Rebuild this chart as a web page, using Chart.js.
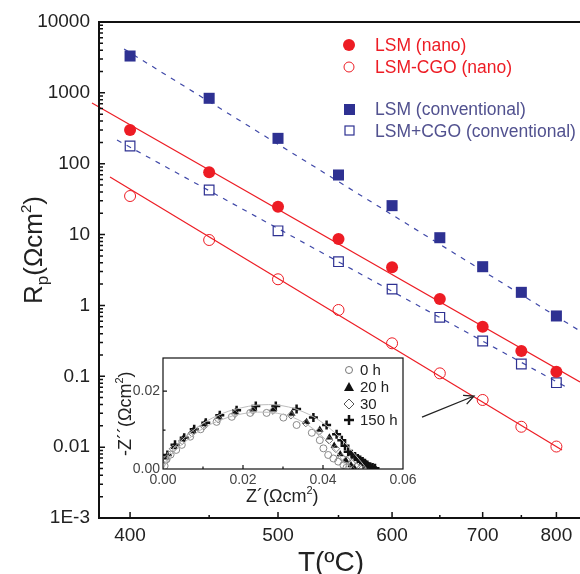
<!DOCTYPE html>
<html>
<head>
<meta charset="utf-8">
<script src="https://cdn.jsdelivr.net/npm/chart.js@4/dist/chart.umd.min.js"></script>
<style>
  body { margin: 0; background: #fff; }
  #wrap { position: relative; width: 580px; height: 574px; }
  #main { position: absolute; left: 0; top: 0; }
  #inset { position: absolute; left: 100px; top: 350px; }
</style>
</head>
<body>
<div id="wrap">
  <canvas id="main" width="580" height="574"></canvas>
  <canvas id="inset" width="325" height="165"></canvas>
</div>
<script>
// temperatures (ºC) and polarisation resistance Rp (Ωcm²)
var temps = [400, 450, 500, 550, 600, 650, 700, 750, 800];
var lsmNano = [299, 75.7, 24.7, 8.66, 3.45, 1.23, 0.501, 0.228, 0.116];
var lsmCgoNano = [35.0, 8.38, 2.34, 0.862, 0.292, 0.110, 0.0463, 0.0194, 0.0102];
var lsmConv = [3311, 838, 228, 69.3, 25.6, 9.03, 3.52, 1.53, 0.71];
var lsmCgoConv = [178, 42.6, 11.3, 4.14, 1.70, 0.68, 0.315, 0.149, 0.0812];

// Arrhenius fit lines: end points
var fitNanoT = [378.3, 836.5], fitNano = [719, 0.0831];
var fitCgoNanoT = [388.4, 808.4], fitCgoNano = [64.9, 0.00911];
var fitConvT = [396.5, 836.5], fitConv = [4159, 0.4356];
var fitCgoConvT = [392.4, 817.6], fitCgoConv = [216, 0.0683];

var xTickLabels = [400, 500, 600, 700, 800];
var xMinorTicks = [450, 550, 650, 750];
var yTickValues = [0.001, 0.01, 0.1, 1, 10, 100, 1000, 10000];
var yTickLabels = ["1E-3", "0.01", "0.1", "1", "10", "100", "1000", "10000"];

// arrow pointing at the 700 ºC point
var arrowFrom = [630.7, 0.0266], arrowTo = [689.5, 0.0527];

// inset: impedance spectra, Z' and -Z'' (Ωcm²)
var z0h = [[0.0004,0.0008],[0.0009,0.0025],[0.0019,0.0037],[0.0033,0.0049],[0.0047,0.0062],[0.0068,0.0083],[0.0094,0.0102],[0.0134,0.0121],[0.0172,0.0134],[0.0218,0.0144],[0.0259,0.0144],[0.0301,0.0132],[0.0334,0.0113],[0.0372,0.0093],[0.0392,0.0074],[0.0401,0.0053],[0.0413,0.0036],[0.0426,0.0027],[0.0438,0.0019],[0.0451,0.001],[0.0459,0.0004]];
var z20h = [[0.0008,0.003],[0.0028,0.0057],[0.005,0.0077],[0.0075,0.0098],[0.0104,0.0116],[0.014,0.0134],[0.0181,0.0147],[0.0226,0.0153],[0.0276,0.0153],[0.0322,0.0142],[0.0359,0.0121],[0.0392,0.0101],[0.0416,0.0081],[0.0428,0.006],[0.0443,0.0038],[0.0457,0.0022],[0.047,0.001],[0.0478,0.0003]];
var z30 = [[0.0006,0.0022],[0.0025,0.0052],[0.0048,0.0072],[0.0072,0.0092],[0.0102,0.011],[0.0138,0.0128],[0.018,0.0142],[0.0225,0.015],[0.0275,0.015],[0.032,0.0138],[0.0357,0.0118],[0.039,0.0096],[0.0415,0.0074],[0.0432,0.0052],[0.0447,0.003],[0.0459,0.0023],[0.0472,0.0015],[0.0484,0.0006],[0.0493,0.0002]];
var z150h = [[0.0011,0.0036],[0.003,0.0062],[0.0053,0.008],[0.0078,0.0102],[0.0107,0.0119],[0.0142,0.0138],[0.0184,0.0151],[0.0232,0.0162],[0.0282,0.0162],[0.0334,0.0154],[0.0376,0.0132],[0.0409,0.0113],[0.0434,0.0089],[0.0447,0.0074],[0.0455,0.006],[0.0463,0.0044],[0.0472,0.0038],[0.048,0.0032],[0.0487,0.0027],[0.0493,0.0023],[0.0499,0.0019],[0.0505,0.0015],[0.0511,0.001],[0.0518,0.0006],[0.0524,0.0004],[0.053,0.0002]];
var fit0h = [[0,0],[0.002,0.0035],[0.005,0.0065],[0.01,0.0104],[0.015,0.0128],[0.02,0.0142],[0.025,0.0146],[0.03,0.014],[0.035,0.012],[0.04,0.0082],[0.044,0.0035],[0.046,0]];
var fit150h = [[0,0],[0.002,0.0045],[0.005,0.0077],[0.01,0.0117],[0.015,0.0143],[0.02,0.0158],[0.025,0.0165],[0.03,0.0162],[0.035,0.0147],[0.04,0.0118],[0.045,0.0072],[0.049,0.0025],[0.051,0]];
var insetXTicks = [0, 0.02, 0.04, 0.06];
var insetYTicks = [0, 0.02];

var FONT = "'Liberation Sans', Arial, sans-serif";
var RED = "#ed1c24", NAVY = "#2e3192", BLUE = "#3f48a8", BLUETXT = "#51518f";

// x axis is 1000/T(K), labelled in ºC
function inv(t) { return 1000 / (t + 273.15); }
function pts(ts, vs) { return ts.map(function (t, i) { return { x: inv(t), y: vs[i] }; }); }
function xy(arr) { return arr.map(function (p) { return { x: p[0], y: p[1] }; }); }
function noPad(s) { s.paddingLeft = 0; s.paddingRight = 0; s.paddingTop = 0; s.paddingBottom = 0; }

var mainDecor = {
    id: "mainDecor",
    afterDraw: function (chart) {
        var ctx = chart.ctx, ca = chart.chartArea;
        var xs = chart.scales.x, ys = chart.scales.y;
        ctx.save();
        ctx.strokeStyle = "#111";
        ctx.lineWidth = 2;
        ctx.beginPath();
        ctx.moveTo(ca.right, ca.top); ctx.lineTo(ca.left, ca.top);
        ctx.lineTo(ca.left, ca.bottom); ctx.lineTo(ca.right, ca.bottom);
        ctx.stroke();
        // ticks, pointing inwards
        ctx.lineWidth = 1.5;
        ctx.beginPath();
        for (var d = -3; d <= 4; d++) {
            var py = ys.getPixelForValue(Math.pow(10, d));
            ctx.moveTo(ca.left, py); ctx.lineTo(ca.left + 6, py);
            if (d < 4) {
                for (var k = 2; k <= 9; k++) {
                    var my = ys.getPixelForValue(k * Math.pow(10, d));
                    ctx.moveTo(ca.left, my); ctx.lineTo(ca.left + 4, my);
                }
            }
        }
        xTickLabels.forEach(function (t) {
            var px = xs.getPixelForValue(inv(t));
            ctx.moveTo(px, ca.bottom); ctx.lineTo(px, ca.bottom - 6);
        });
        xMinorTicks.forEach(function (t) {
            var px = xs.getPixelForValue(inv(t));
            ctx.moveTo(px, ca.bottom); ctx.lineTo(px, ca.bottom - 3);
        });
        ctx.stroke();

        // arrow
        var ax0 = xs.getPixelForValue(inv(arrowFrom[0])), ay0 = ys.getPixelForValue(arrowFrom[1]);
        var ax1 = xs.getPixelForValue(inv(arrowTo[0])), ay1 = ys.getPixelForValue(arrowTo[1]);
        var ang = Math.atan2(ay1 - ay0, ax1 - ax0);
        ctx.lineWidth = 1.3;
        ctx.strokeStyle = "#222";
        ctx.beginPath();
        ctx.moveTo(ax0, ay0); ctx.lineTo(ax1, ay1);
        ctx.moveTo(ax1 - 11 * Math.cos(ang - 0.45), ay1 - 11 * Math.sin(ang - 0.45));
        ctx.lineTo(ax1, ay1);
        ctx.lineTo(ax1 - 11 * Math.cos(ang + 0.45), ay1 - 11 * Math.sin(ang + 0.45));
        ctx.stroke();

        // legend
        ctx.font = "17.5px " + FONT;
        ctx.textBaseline = "middle";
        ctx.textAlign = "left";
        ctx.fillStyle = RED;
        ctx.beginPath(); ctx.arc(349, 45, 6, 0, Math.PI * 2); ctx.fill();
        ctx.fillText("LSM (nano)", 375, 46);
        ctx.strokeStyle = RED; ctx.lineWidth = 1;
        ctx.beginPath(); ctx.arc(349, 67, 5, 0, Math.PI * 2); ctx.stroke();
        ctx.fillText("LSM-CGO (nano)", 375, 68);
        ctx.fillStyle = NAVY;
        ctx.fillRect(344, 104, 11, 11);
        ctx.strokeStyle = NAVY; ctx.lineWidth = 1.2;
        ctx.strokeRect(345, 126, 9, 9);
        ctx.fillStyle = BLUETXT;
        ctx.fillText("LSM (conventional)", 375, 110);
        ctx.fillText("LSM+CGO (conventional)", 375, 132);

        // axis titles
        ctx.fillStyle = "#222";
        ctx.textBaseline = "alphabetic";
        ctx.font = "28px " + FONT;
        ctx.textAlign = "center";
        ctx.fillText("T(ºC)", 331, 571);

        ctx.translate(42, 304);
        ctx.rotate(-Math.PI / 2);
        ctx.textAlign = "left";
        var x = 0;
        function part(s, size, dy) {
            ctx.font = size + "px " + FONT;
            ctx.fillText(s, x, dy);
            x += ctx.measureText(s).width;
        }
        part("R", 26, 0); part("p", 17, 6); part("(Ωcm", 26, 0); part("2", 15, -11); part(")", 26, 0);
        ctx.restore();
    }
};

new Chart(document.getElementById("main"), {
    type: "scatter",
    data: {
        datasets: [
            { label: "LSM (nano)", data: pts(temps, lsmNano), pointStyle: "circle", pointRadius: 6,
              backgroundColor: RED, borderColor: RED, borderWidth: 0 },
            { label: "LSM-CGO (nano)", data: pts(temps, lsmCgoNano), pointStyle: "circle", pointRadius: 5.5,
              backgroundColor: "transparent", borderColor: RED, borderWidth: 1 },
            { label: "LSM (conventional)", data: pts(temps, lsmConv), pointStyle: "rect", pointRadius: 7.8,
              backgroundColor: NAVY, borderColor: NAVY, borderWidth: 0 },
            { label: "LSM+CGO (conventional)", data: pts(temps, lsmCgoConv), pointStyle: "rect", pointRadius: 6.8,
              backgroundColor: "transparent", borderColor: NAVY, borderWidth: 1.2 },
            { data: pts(fitNanoT, fitNano), showLine: true, pointRadius: 0, borderColor: RED, borderWidth: 1.2,
              clip: { left: 10, top: 0, right: 0, bottom: 0 } },
            { data: pts(fitCgoNanoT, fitCgoNano), showLine: true, pointRadius: 0, borderColor: RED, borderWidth: 1.2 },
            { data: pts(fitConvT, fitConv), showLine: true, pointRadius: 0, borderColor: BLUE, borderWidth: 1.2,
              borderDash: [5, 6] },
            { data: pts(fitCgoConvT, fitCgoConv), showLine: true, pointRadius: 0, borderColor: BLUE, borderWidth: 1.2,
              borderDash: [5, 6] }
        ]
    },
    options: {
        responsive: false,
        animation: false,
        layout: { autoPadding: false, padding: { top: 22, right: 0, left: 0, bottom: 0 } },
        plugins: { legend: { display: false }, tooltip: { enabled: false } },
        scales: {
            x: {
                type: "linear",
                reverse: true,
                min: inv(836.5),
                max: inv(382.2),
                grid: { display: false, drawTicks: false },
                border: { display: false },
                afterBuildTicks: function (s) { s.ticks = xTickLabels.map(function (t) { return { value: inv(t) }; }); },
                afterFit: function (s) { s.height = 56; noPad(s); },
                ticks: {
                    padding: 6,
                    color: "#222",
                    font: { family: FONT, size: 19 },
                    callback: function (v, i) { return String(xTickLabels[i]); }
                }
            },
            y: {
                type: "logarithmic",
                min: 0.001,
                max: 10000,
                grid: { display: false, drawTicks: false },
                border: { display: false },
                afterBuildTicks: function (s) { s.ticks = yTickValues.map(function (v) { return { value: v }; }); },
                afterFit: function (s) { s.width = 99; noPad(s); },
                ticks: {
                    padding: 9,
                    color: "#222",
                    font: { family: FONT, size: 19 },
                    callback: function (v, i) { return yTickLabels[i]; }
                }
            }
        }
    },
    plugins: [mainDecor]
});

var insetDecor = {
    id: "insetDecor",
    beforeDatasetsDraw: function (chart) {
        var ctx = chart.ctx, ca = chart.chartArea;
        ctx.save();
        ctx.fillStyle = "#fff";
        ctx.fillRect(ca.left, ca.top, ca.right - ca.left, ca.bottom - ca.top);
        ctx.restore();
    },
    afterDraw: function (chart) {
        var ctx = chart.ctx, ca = chart.chartArea;
        var xs = chart.scales.x, ys = chart.scales.y;
        ctx.save();
        ctx.strokeStyle = "#111";
        ctx.lineWidth = 1.2;
        ctx.strokeRect(ca.left, ca.top, ca.right - ca.left, ca.bottom - ca.top);
        ctx.beginPath();
        [0.01, 0.02, 0.03, 0.04, 0.05].forEach(function (v, i) {
            var px = xs.getPixelForValue(v), len = (i % 2) ? 4 : 2.5;
            ctx.moveTo(px, ca.bottom); ctx.lineTo(px, ca.bottom - len);
        });
        [0.01, 0.02].forEach(function (v, i) {
            var py = ys.getPixelForValue(v), len = i ? 4 : 2.5;
            ctx.moveTo(ca.left, py); ctx.lineTo(ca.left + len, py);
        });
        ctx.stroke();

        // legend
        ctx.font = "15px " + FONT;
        ctx.textBaseline = "middle";
        ctx.fillStyle = "#222";
        var lx = 249, rows = [20, 37, 54, 70];
        var labels = ["0 h", "20 h", "30", "150 h"];
        ctx.strokeStyle = "#777"; ctx.lineWidth = 1;
        ctx.beginPath(); ctx.arc(lx, rows[0], 3.5, 0, Math.PI * 2); ctx.stroke();
        ctx.beginPath(); ctx.moveTo(lx, rows[1] - 5); ctx.lineTo(lx + 5, rows[1] + 4); ctx.lineTo(lx - 5, rows[1] + 4); ctx.closePath();
        ctx.fillStyle = "#111"; ctx.fill();
        ctx.strokeStyle = "#555";
        ctx.beginPath(); ctx.moveTo(lx, rows[2] - 5); ctx.lineTo(lx + 5, rows[2]); ctx.lineTo(lx, rows[2] + 5); ctx.lineTo(lx - 5, rows[2]); ctx.closePath(); ctx.stroke();
        ctx.strokeStyle = "#111"; ctx.lineWidth = 2.5;
        ctx.beginPath(); ctx.moveTo(lx - 5, rows[3]); ctx.lineTo(lx + 5, rows[3]); ctx.moveTo(lx, rows[3] - 5); ctx.lineTo(lx, rows[3] + 5); ctx.stroke();
        ctx.fillStyle = "#222";
        labels.forEach(function (s, i) { ctx.fillText(s, 260, rows[i] + 1); });

        // titles
        ctx.textBaseline = "alphabetic";
        ctx.textAlign = "left";
        function draw(parts, x0, y0) {
            var x = x0;
            parts.forEach(function (p) {
                ctx.font = p[1] + "px " + FONT;
                ctx.fillText(p[0], x, y0 + p[2]);
                x += ctx.measureText(p[0]).width;
            });
        }
        draw([["Z´(Ωcm", 18, 0], ["2", 11, -8], [")", 18, 0]], 146, 152);
        ctx.translate(31, 106);
        ctx.rotate(-Math.PI / 2);
        draw([["-Z´´(Ωcm", 18, 0], ["2", 11, -8], [")", 18, 0]], 0, 0);
        ctx.restore();
    }
};

new Chart(document.getElementById("inset"), {
    type: "scatter",
    data: {
        datasets: [
            { data: xy(fit0h), showLine: true, tension: 0.4, pointRadius: 0, borderColor: "#bdbdbd", borderWidth: 1 },
            { data: xy(fit150h), showLine: true, tension: 0.4, pointRadius: 0, borderColor: "#bdbdbd", borderWidth: 1 },
            { data: xy(z0h), pointStyle: "circle", pointRadius: 3.5, backgroundColor: "transparent", borderColor: "#8a8a8a", borderWidth: 1 },
            { data: xy(z30), pointStyle: "rectRot", pointRadius: 3.8, backgroundColor: "transparent", borderColor: "#777", borderWidth: 1 },
            { data: xy(z20h), pointStyle: "triangle", pointRadius: 4.2, backgroundColor: "#111", borderColor: "#111", borderWidth: 0 },
            { data: xy(z150h), pointStyle: "cross", pointRadius: 4.5, borderColor: "#111", borderWidth: 2.5 }
        ]
    },
    options: {
        responsive: false,
        animation: false,
        layout: { autoPadding: false, padding: { top: 8, right: 22, left: 0, bottom: 0 } },
        plugins: { legend: { display: false }, tooltip: { enabled: false } },
        scales: {
            x: {
                type: "linear", min: 0, max: 0.06,
                grid: { display: false, drawTicks: false },
                border: { display: false },
                afterBuildTicks: function (s) { s.ticks = insetXTicks.map(function (v) { return { value: v }; }); },
                afterFit: function (s) { s.height = 46; noPad(s); },
                ticks: { padding: 3, color: "#444", font: { family: FONT, size: 14 },
                         callback: function (v) { return v.toFixed(2); } }
            },
            y: {
                type: "linear", min: 0, max: 0.0285,
                grid: { display: false, drawTicks: false },
                border: { display: false },
                afterBuildTicks: function (s) { s.ticks = insetYTicks.map(function (v) { return { value: v }; }); },
                afterFit: function (s) { s.width = 63; noPad(s); },
                ticks: { padding: 3, color: "#444", font: { family: FONT, size: 14 },
                         callback: function (v) { return v.toFixed(2); } }
            }
        }
    },
    plugins: [insetDecor]
});
</script>
</body>
</html>
